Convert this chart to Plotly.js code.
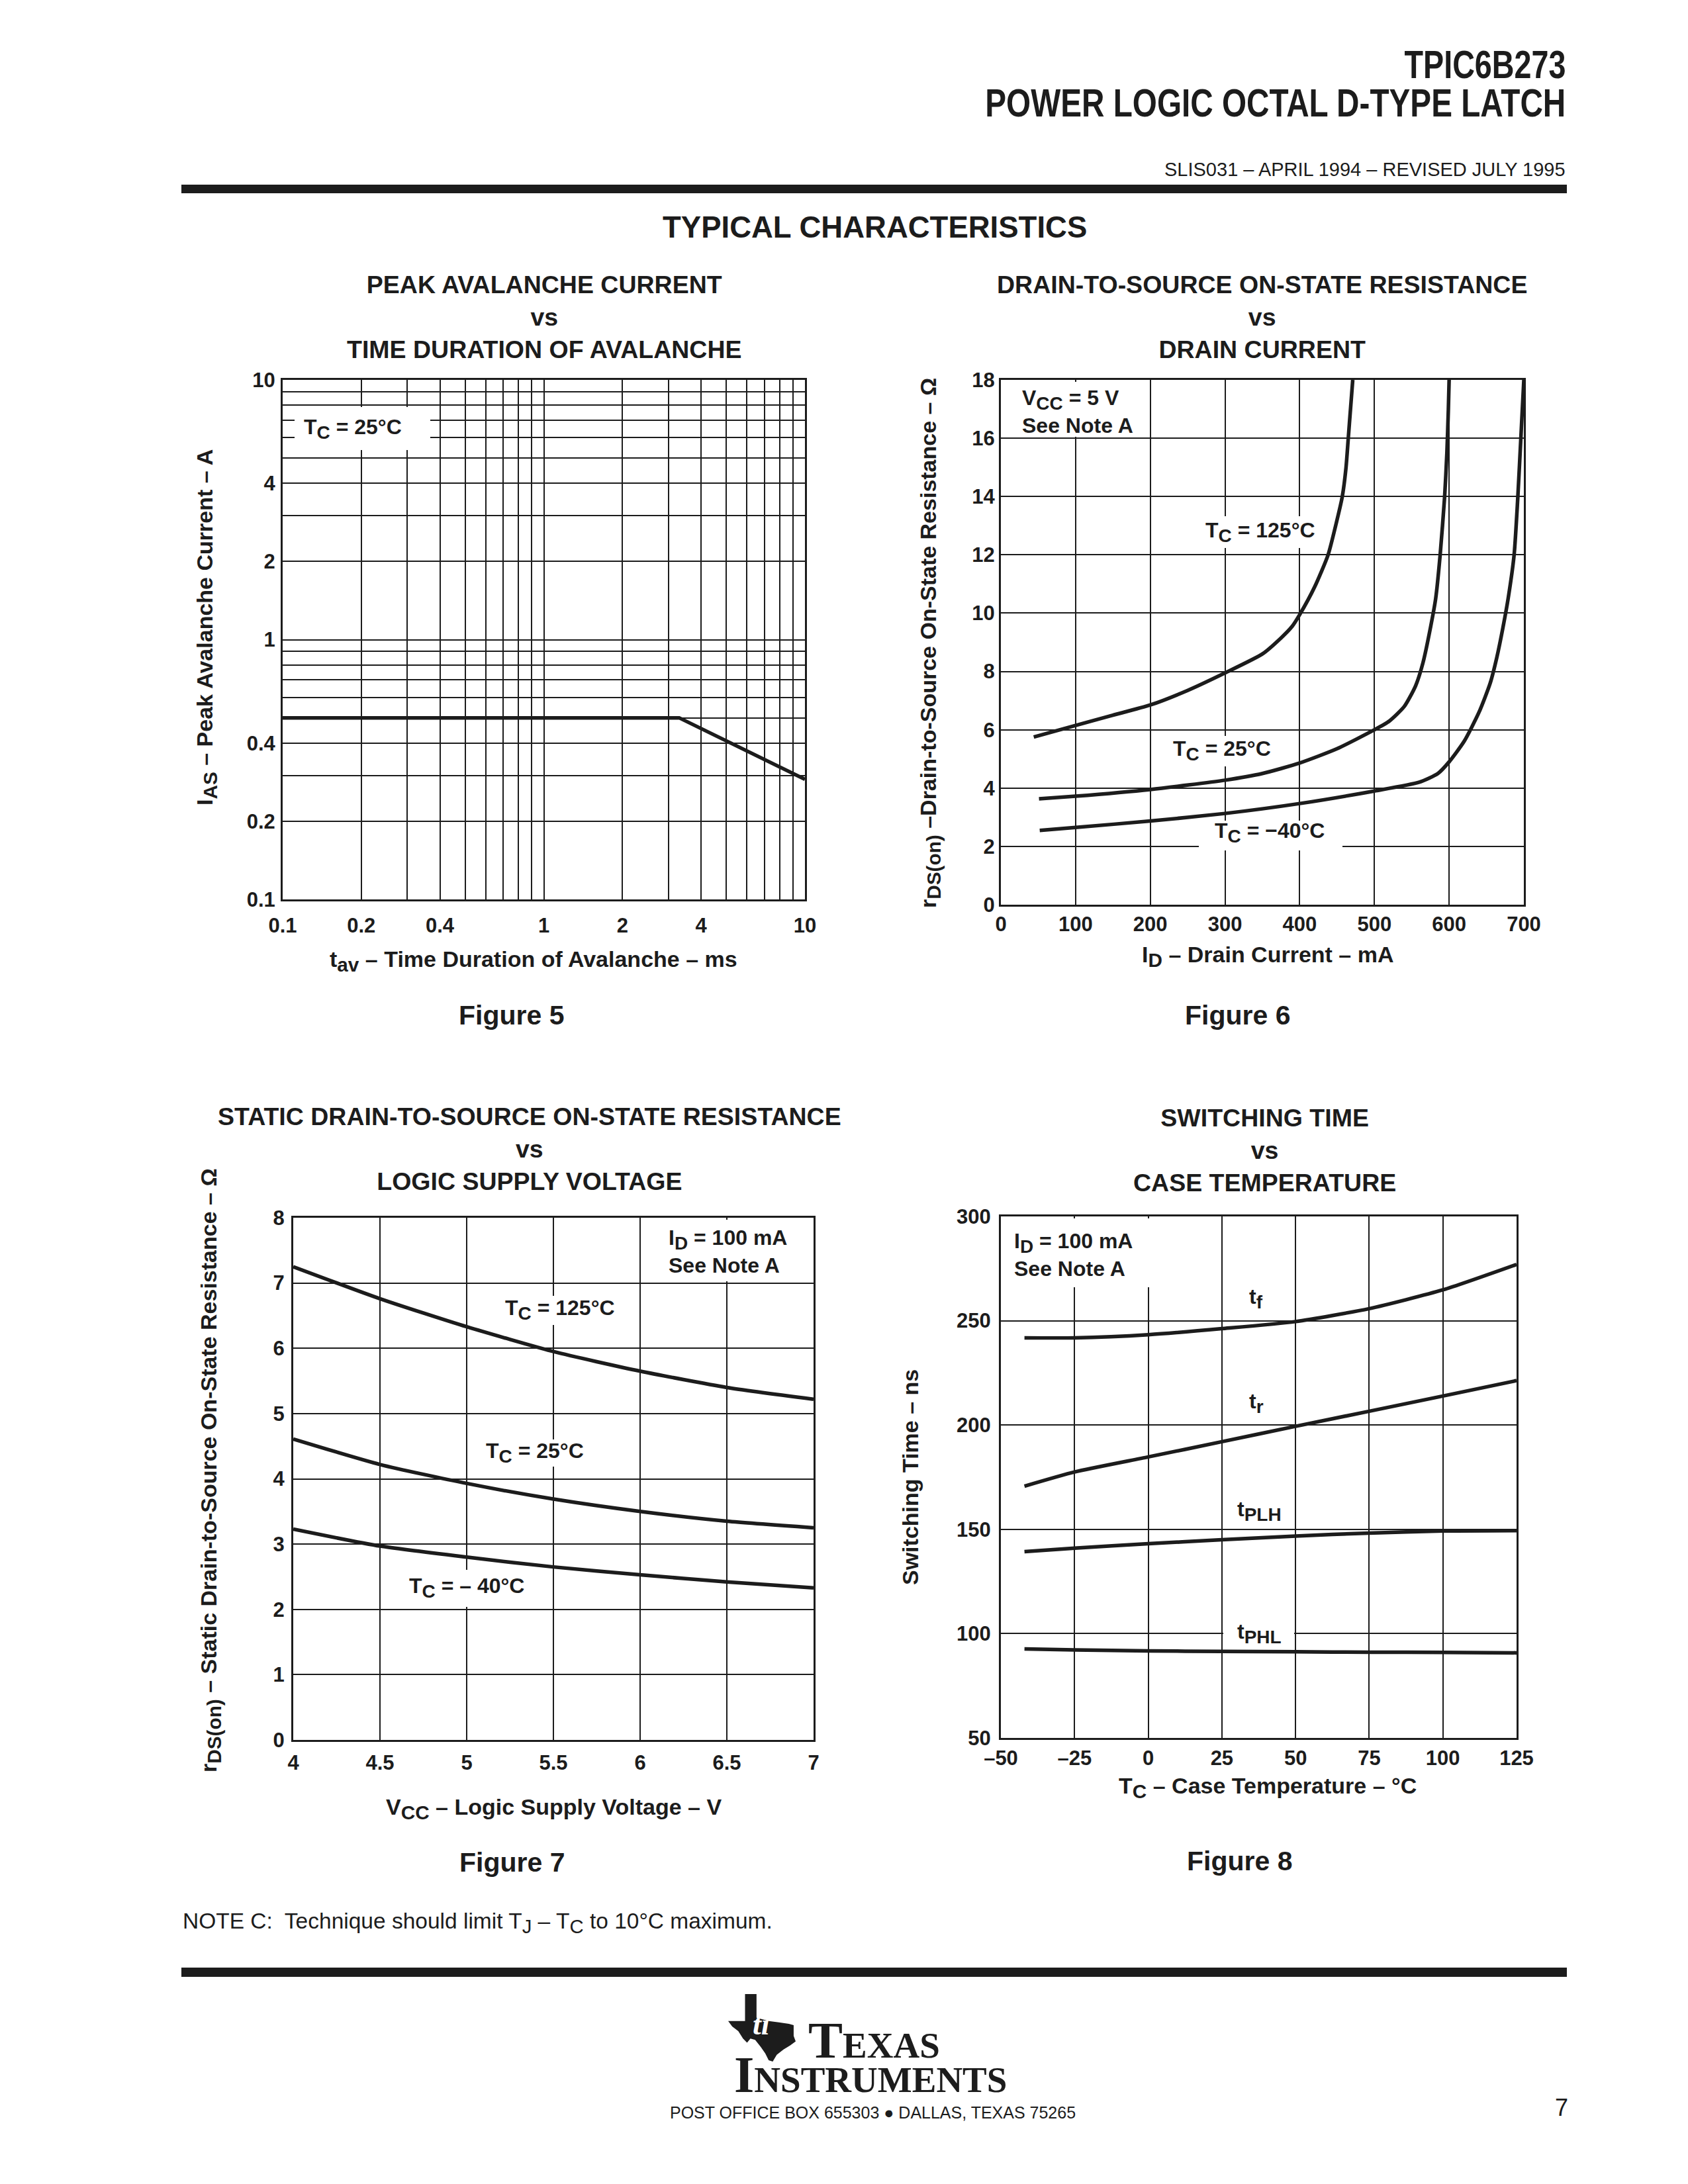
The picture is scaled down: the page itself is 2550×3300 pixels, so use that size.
<!DOCTYPE html>
<html>
<head>
<meta charset="utf-8">
<script src="https://cdn.plot.ly/plotly-3.0.1.min.js"></script>
<style>html,body{margin:0;padding:0;background:#fff;}#chart{width:2550px;height:3300px;}</style>
</head>
<body>
<div id="chart"></div>
<script>
// ---------------- DATA ----------------
// Figure 5: peak avalanche current vs time duration of avalanche (TC = 25 C)
const f5Time = [0.1, 3.3, 10];
const f5Current = [0.5, 0.5, 0.29];
const f5GridVals = [0.1,0.2,0.3,0.4,0.5,0.6,0.7,0.8,0.9,1,2,3,4,5,6,7,8,9,10];
const f5Labeled = [0.1, 0.2, 0.4, 1, 2, 4, 10];

// Figure 6: rDS(on) vs drain current
const f6Id125 = [44,100,150,200,250,300,350,375,390,400,420,438,450,457,462,465,468,471];
const f6R125  = [5.75,6.15,6.5,6.85,7.35,7.95,8.6,9.15,9.55,9.95,10.9,12,13.2,14,15,16,17,18];
const f6Id25  = [51,100,200,300,350,400,450,500,520,540,555,565,575,582,588,594,597,599,600];
const f6R25   = [3.63,3.72,3.95,4.27,4.5,4.86,5.35,6.0,6.3,6.8,7.5,8.3,9.5,10.5,12,14,15.5,17,18];
const f6IdM40 = [52,100,200,300,400,500,560,585,600,620,640,655,664,672,679,687,692,696,700];
const f6RM40  = [2.55,2.65,2.87,3.13,3.47,3.9,4.2,4.5,4.9,5.6,6.6,7.6,8.5,9.5,10.5,12,14,16,18];

// Figure 7: static rDS(on) vs logic supply voltage
const f7Vcc   = [4, 4.5, 5, 5.5, 6, 6.5, 7];
const f7R125  = [7.25, 6.76, 6.33, 5.95, 5.65, 5.40, 5.22];
const f7R25   = [4.61, 4.22, 3.93, 3.69, 3.50, 3.35, 3.25];
const f7RM40  = [3.23, 2.97, 2.80, 2.65, 2.53, 2.42, 2.33];

// Figure 8: switching time vs case temperature
const f8Tc    = [-42, -25, 0, 25, 50, 75, 100, 125];
const f8Tf    = [241.8, 241.8, 243.3, 246.2, 249.6, 255.8, 264.8, 277];
const f8Tr    = [170.7, 177.5, 184.7, 192.0, 199.4, 206.6, 213.9, 221.3];
const f8Tplh  = [139.3, 141.0, 143.1, 145.0, 146.8, 148.2, 149.2, 149.4];
const f8Tphl  = [92.7, 92.2, 91.7, 91.5, 91.3, 91.1, 91.0, 90.8];
const f8TickVals = [-50, -25, 0, 25, 50, 75, 100, 125];
const f8TickText = ['\u201350', '\u201325', '0', '25', '50', '75', '100', '125'];

// ---------------- STYLE / LAYOUT ----------------
const W = 2550, H = 3300;
const INK = '#1c1c1c';
const SANS = 'Liberation Sans, Arial, Helvetica, sans-serif';
const SERIF = 'Liberation Serif, Times New Roman, serif';
const px = v => v / W;
const py = v => 1 - v / H;
const sub = s => '<sub><span style="font-size:125%">' + s + '</span></sub>';

function axis(d0, d1, vertical, extra) {
  return Object.assign({
    domain: vertical ? [py(d1), py(d0)] : [px(d0), px(d1)],
    showline: true, mirror: true, linewidth: 3, linecolor: INK,
    showgrid: true, gridcolor: INK, gridwidth: 2, zeroline: false,
    ticks: '', tickangle: 0, fixedrange: true,
    tickfont: {family: SANS, size: 31, color: INK, weight: 700}
  }, extra);
}

function curve(x, y, xa, ya, shape) {
  return {x: x, y: y, xaxis: xa, yaxis: ya, type: 'scatter', mode: 'lines',
          line: {color: INK, width: 5.5, shape: shape || 'spline', smoothing: 0.6},
          hoverinfo: 'skip', showlegend: false};
}

const data = [
  curve(f5Time, f5Current, 'x', 'y', 'linear'),
  curve(f6Id125, f6R125, 'x2', 'y2'),
  curve(f6Id25, f6R25, 'x2', 'y2'),
  curve(f6IdM40, f6RM40, 'x2', 'y2'),
  curve(f7Vcc, f7R125, 'x3', 'y3'),
  curve(f7Vcc, f7R25, 'x3', 'y3'),
  curve(f7Vcc, f7RM40, 'x3', 'y3'),
  curve(f8Tc, f8Tf, 'x4', 'y4'),
  curve(f8Tc, f8Tr, 'x4', 'y4'),
  curve(f8Tc, f8Tplh, 'x4', 'y4'),
  curve(f8Tc, f8Tphl, 'x4', 'y4')
];

function ann(x, y, text, o) {
  o = o || {};
  return {xref: 'paper', yref: 'paper', x: px(x), y: py(y), text: text, showarrow: false,
    xanchor: o.xa || 'center', yanchor: o.ya || 'middle', align: o.align || 'center',
    textangle: o.angle || 0, name: o.name || '',
    font: {family: o.family || SANS, size: o.size || 32, color: o.color || INK,
           weight: o.weight === undefined ? 700 : o.weight, style: o.style || 'normal',
           variant: o.variant || 'normal'}};
}
function box(x0, x1, y0, y1, fill) {
  return {type: 'rect', xref: 'paper', yref: 'paper', layer: 'above',
          x0: px(x0), x1: px(x1), y0: py(y1), y1: py(y0),
          fillcolor: fill || '#ffffff', line: {width: 0}};
}

const titleSize = 37.5, axTitleSize = 34, figSize = 41, labSize = 32;

const annotations = [
  // page header
  ann(2367, 97, 'TPIC6B273', {xa: 'right', align: 'right', size: 60}),
  ann(2367, 155, 'POWER LOGIC OCTAL D-TYPE LATCH', {xa: 'right', align: 'right', size: 60}),
  ann(2367, 256, 'SLIS031 \u2013 APRIL 1994 \u2013 REVISED JULY 1995', {xa: 'right', size: 29, weight: 400}),
  ann(1321, 343, 'TYPICAL CHARACTERISTICS', {size: 45.5}),

  // chart titles
  ann(822, 479, 'PEAK AVALANCHE CURRENT<br>vs<br>TIME DURATION OF AVALANCHE', {size: titleSize}),
  ann(1906, 479, 'DRAIN-TO-SOURCE ON-STATE RESISTANCE<br>vs<br>DRAIN CURRENT', {size: titleSize}),
  ann(800, 1736, 'STATIC DRAIN-TO-SOURCE ON-STATE RESISTANCE<br>vs<br>LOGIC SUPPLY VOLTAGE', {size: titleSize}),
  ann(1910, 1738, 'SWITCHING TIME<br>vs<br>CASE TEMPERATURE', {size: titleSize}),

  // axis titles
  ann(806, 1452, 't' + sub('av') + ' \u2013 Time Duration of Avalanche \u2013 ms', {size: axTitleSize}),
  ann(312, 948, 'I' + sub('AS') + ' \u2013 Peak Avalanche Current \u2013 A', {size: axTitleSize, angle: -90}),
  ann(1915, 1445, 'I' + sub('D') + ' \u2013 Drain Current \u2013 mA', {size: axTitleSize}),
  ann(1405, 972, 'r' + sub('DS(on)') + ' \u2013Drain-to-Source On-State Resistance \u2013 \u03A9', {size: axTitleSize, angle: -90}),
  ann(836, 2733, 'V' + sub('CC') + ' \u2013 Logic Supply Voltage \u2013 V', {size: axTitleSize}),
  ann(318, 2222, 'r' + sub('DS(on)') + ' \u2013 Static Drain-to-Source On-State Resistance \u2013 \u03A9', {size: axTitleSize, angle: -90}),
  ann(1915, 2701, 'T' + sub('C') + ' \u2013 Case Temperature \u2013 \u00B0C', {size: axTitleSize}),
  ann(1375, 2232, 'Switching Time \u2013 ns', {size: axTitleSize, angle: -90}),

  // figure captions
  ann(772, 1534, 'Figure 5', {size: figSize}),
  ann(1870, 1534, 'Figure 6', {size: figSize}),
  ann(773, 2814, 'Figure 7', {size: figSize}),
  ann(1872, 2812, 'Figure 8', {size: figSize}),

  // in-plot labels
  ann(457, 648, 'T' + sub('C') + ' = 25\u00B0C', {xa: 'left', size: labSize}),
  ann(1542, 622, 'V' + sub('CC') + ' = 5 V<br>See Note A', {xa: 'left', align: 'left', size: labSize}),
  ann(1904, 804, 'T' + sub('C') + ' = 125\u00B0C', {size: labSize}),
  ann(1846, 1134, 'T' + sub('C') + ' = 25\u00B0C', {size: labSize}),
  ann(1918, 1258, 'T' + sub('C') + ' = \u221240\u00B0C', {size: labSize}),
  ann(1008, 1891, 'I' + sub('D') + ' = 100 mA<br>See Note A', {xa: 'left', align: 'left', size: labSize}),
  ann(846, 1979, 'T' + sub('C') + ' = 125\u00B0C', {size: labSize}),
  ann(808, 2195, 'T' + sub('C') + ' = 25\u00B0C', {size: labSize}),
  ann(705, 2399, 'T' + sub('C') + ' = \u2013 40\u00B0C', {size: labSize}),
  ann(1530, 1896, 'I' + sub('D') + ' = 100 mA<br>See Note A', {xa: 'left', align: 'left', size: labSize}),
  ann(1898, 1962, 't' + sub('f'), {size: labSize}),
  ann(1898, 2120, 't' + sub('r'), {size: labSize}),
  ann(1902, 2283, 't' + sub('PLH'), {size: labSize}),
  ann(1902, 2468, 't' + sub('PHL'), {size: labSize}),

  // footer
  ann(274, 2905, 'NOTE C:\u00A0 Technique should limit T' + sub('J') + ' \u2013 T' + sub('C') + ' to 10\u00B0C maximum.', {xa: 'left', size: 33.5, weight: 400}),
  ann(1150, 3058, 'ti', {size: 46, color: '#ffffff', family: SERIF, style: 'italic'}),
  ann(1219, 3082, 'Texas', {xa: 'left', size: 78, family: SERIF, variant: 'small-caps'}),
  ann(1107, 3134, 'Instruments', {xa: 'left', size: 78, family: SERIF, variant: 'small-caps'}),
  ann(1318, 3192, 'POST OFFICE BOX 655303 \u25CF DALLAS, TEXAS 75265', {size: 25, weight: 400}),
  ann(2371, 3184, '7', {xa: 'right', size: 36, weight: 400})
];

// Texas outline for logo (local 0..100 units)
const logoPts = [[25,0],[42,0],[42,35],[60,40],[75,42],[90,44],[97,46],[97,62],[100,70],[92,76],[82,82],[72,90],[66,100],[60,98],[55,88],[48,78],[40,68],[33,66],[28,72],[22,66],[15,55],[6,48],[0,40],[25,40]];
const LX0 = 1100, LY0 = 3013, LW = 102, LH = 102;
const logoPath = 'M ' + logoPts.map(p => px(LX0 + p[0] * LW / 100) + ',' + py(LY0 + p[1] * LH / 100)).join(' L ') + ' Z';

const shapes = [
  box(274, 2367, 279, 292, INK),
  box(274, 2367, 2973, 2987, INK),
  // white label boxes breaking grid lines
  box(445, 650, 615, 680),
  box(1515, 1725, 577, 660),
  box(1810, 1998, 780, 828),
  box(1760, 1932, 1112, 1158),
  box(1811, 2028, 1240, 1285),
  box(1000, 1226, 1843, 1936),
  box(752, 940, 1958, 2002),
  box(724, 892, 2175, 2216),
  box(606, 805, 2372, 2428),
  box(1515, 1760, 1841, 1945),
  box(1848, 1955, 2448, 2486),
  {type: 'path', xref: 'paper', yref: 'paper', layer: 'above', path: logoPath, fillcolor: INK, line: {width: 0}}
];

const minorGrid = {tickmode: 'array', tickvals: f5GridVals, showgrid: true, gridcolor: INK, gridwidth: 2, ticks: ''};

const layout = {
  width: W, height: H, margin: {l: 0, r: 0, t: 0, b: 0},
  paper_bgcolor: '#ffffff', plot_bgcolor: '#ffffff', showlegend: false,
  xaxis: axis(427, 1216, false, {anchor: 'y', type: 'log', range: [-1, 1], tickvals: f5Labeled,
    ticktext: f5Labeled.map(String), minor: minorGrid, ticklabelstandoff: 10}),
  yaxis: axis(574, 1359, true, {anchor: 'x', type: 'log', range: [-1, 1], tickvals: f5Labeled,
    ticktext: f5Labeled.map(String), minor: minorGrid, ticklabelstandoff: 2}),
  xaxis2: axis(1512, 2302, false, {anchor: 'y2', range: [0, 700], dtick: 100, tick0: 0, ticklabelstandoff: 0}),
  yaxis2: axis(574, 1367, true, {anchor: 'x2', range: [0, 18], dtick: 2, tick0: 0, ticklabelstandoff: 0}),
  xaxis3: axis(443, 1229, false, {anchor: 'y3', range: [4, 7], dtick: 0.5, tick0: 4, ticklabelstandoff: 5}),
  yaxis3: axis(1840, 2629, true, {anchor: 'x3', range: [0, 8], dtick: 1, tick0: 0, ticklabelstandoff: 4}),
  xaxis4: axis(1512, 2291, false, {anchor: 'y4', range: [-50, 125], tickvals: f8TickVals, ticktext: f8TickText, ticklabelstandoff: 1}),
  yaxis4: axis(1838, 2626, true, {anchor: 'x4', range: [50, 300], dtick: 50, tick0: 50, ticklabelstandoff: 6}),
  annotations: annotations,
  shapes: shapes
};

// condensed header lines: the reference uses a condensed face, so the two
// header texts are fitted to the reference widths
const condensedWidths = {'TPIC6B273': 244, 'POWER LOGIC OCTAL D-TYPE LATCH': 877};

Plotly.newPlot('chart', data, layout, {staticPlot: true, displayModeBar: false}).then(function () {
  document.querySelectorAll('.annotation-text').forEach(function (t) {
    const w = condensedWidths[t.textContent];
    if (w) {
      t.setAttribute('textLength', w);
      t.setAttribute('lengthAdjust', 'spacingAndGlyphs');
    }
  });
});
</script>
</body>
</html>
